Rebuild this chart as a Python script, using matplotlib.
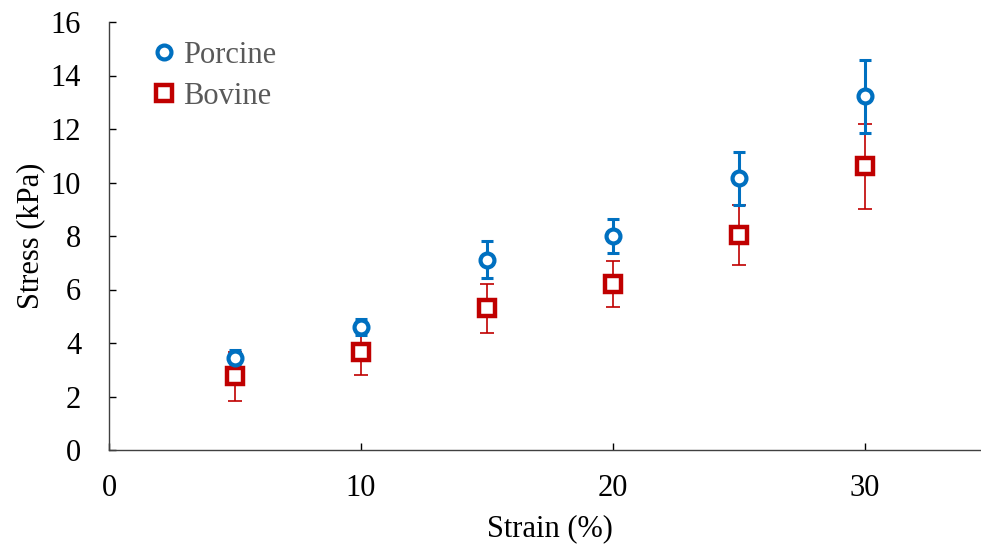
import matplotlib.pyplot as plt

strain = [5, 10, 15, 20, 25, 30]
porcine = [3.45, 4.6, 7.12, 8.0, 10.15, 13.22]
porcine_err = [0.28, 0.3, 0.68, 0.63, 1.0, 1.36]
bovine = [2.75, 3.65, 5.3, 6.2, 8.05, 10.6]
bovine_err = [0.9, 0.85, 0.92, 0.85, 1.12, 1.6]

blue = '#0070C0'
red = '#C00000'

plt.rcParams['font.family'] = ['Liberation Serif', 'DejaVu Serif']

fig = plt.figure(figsize=(9.81, 5.46), dpi=100)
ax = fig.add_axes([109 / 981, 96 / 546, 882 / 981, 428 / 546])

ax.errorbar(strain, bovine, yerr=bovine_err, fmt='none', ecolor=red,
            elinewidth=1.2, capsize=4.8, capthick=1.2, zorder=2)
ax.errorbar(strain, porcine, yerr=porcine_err, fmt='none', ecolor=blue,
            elinewidth=2.2, capsize=4.5, capthick=2.2, zorder=3)
ax.plot(strain, bovine, 's', ms=12, mfc='white', mec=red, mew=3.2,
        label='Bovine', zorder=4)
ax.plot(strain, porcine, 'o', ms=10, mfc='white', mec=blue, mew=3.0,
        label='Porcine', zorder=5)

ax.set_xlim(0, 35)
ax.set_ylim(0, 16)
ax.set_xticks([0, 10, 20, 30])
ax.set_yticks(range(0, 17, 2))
ax.tick_params(direction='in', length=5, width=1, labelsize=22)
ax.tick_params(axis='y', pad=20)
ax.tick_params(axis='x', pad=17)
for s in ['top', 'right']:
    ax.spines[s].set_visible(False)
for s in ['left', 'bottom']:
    ax.spines[s].set_linewidth(1)
    ax.spines[s].set_color('#404040')

ax.set_xlabel('Strain (%)', fontsize=22, labelpad=8)
ax.set_ylabel('Stress (kPa)', fontsize=22, labelpad=4)

h, l = ax.get_legend_handles_labels()
leg = ax.legend(h[::-1], l[::-1], loc='upper left', bbox_to_anchor=(0.035, 0.984),
                frameon=False, fontsize=22, handletextpad=0.2,
                handlelength=0.8, labelspacing=0.38, borderaxespad=0)
for t in leg.get_texts():
    t.set_color('#595959')

fig.savefig('out.png', dpi=100)
